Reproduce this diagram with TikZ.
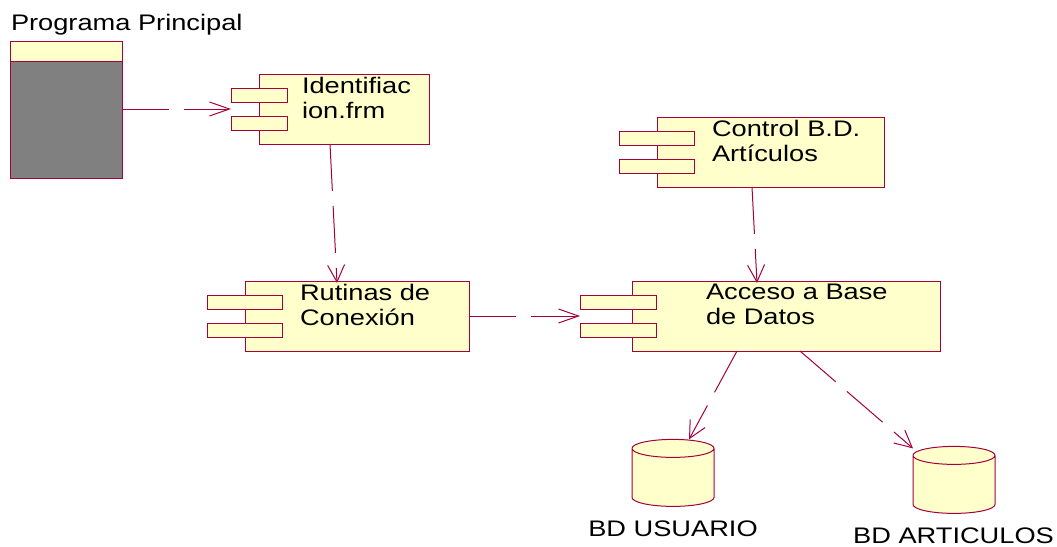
\documentclass[tikz,border=0pt]{standalone}
\usepackage{fontspec}
\setmainfont[FakeStretch=1.21]{Liberation Sans}
\usetikzlibrary{calc,positioning,arrows.meta,shapes.geometric}
\definecolor{roseline}{RGB}{165,0,60}
\definecolor{rosefill}{RGB}{255,255,203}
\begin{document}
\begin{tikzpicture}[x=1pt,y=-1pt,
	box/.style={draw=roseline,fill=rosefill,line width=1pt,inner sep=0pt,outer sep=0pt},
	port/.style={box,minimum height=14pt},
	txt/.style={inner sep=0pt,outer sep=0pt,align=left,font=\fontsize{22.5}{25.3}\selectfont},
	db/.style={box,cylinder,shape border rotate=90,inner sep=20pt,shape aspect=0.45,minimum width=82pt,minimum height=67pt},
	dep/.style={draw=roseline,line width=1pt,dash pattern=on 47pt off 15pt,-{Straight Barb[length=20pt,width=14pt,line width=1pt]}},
	depv/.style={dep,-{Straight Barb[length=17pt,width=17pt,line width=1pt]}}]
	\useasboundingbox (0,0) rectangle (1057,546);
	
	\node[box,minimum width=112pt,minimum height=20pt] (mainh) at (66,51) {};
	\node[box,fill=gray,minimum width=112pt,minimum height=117pt,below=0pt of mainh] (main) {};
	\node[txt,anchor=base west] (mainl) at (11,30) {Programa Principal};
	
	\node[box,minimum width=170pt,minimum height=70pt] (id) at (344,109) {};
	\node[port,minimum width=56pt,below right=14pt and -28pt of id.north west] (idp1) {};
	\node[port,minimum width=56pt,below=14pt of idp1] (idp2) {};
	\node[txt,anchor=north west] (idl) at (302,77) {Identifiac\\ion.frm};
	
	\node[box,minimum width=227pt,minimum height=70pt] (ctl) at (770.5,152) {};
	\node[port,minimum width=75pt,below right=14pt and -38pt of ctl.north west] (ctlp1) {};
	\node[port,minimum width=75pt,below=14pt of ctlp1] (ctlp2) {};
	\node[txt,anchor=north west] (ctll) at (712,120) {Control B.D.\\Artículos};
	
	\node[box,minimum width=224pt,minimum height=70pt] (rut) at (357,316) {};
	\node[port,minimum width=75pt,below right=14pt and -38pt of rut.north west] (rutp1) {};
	\node[port,minimum width=75pt,below=14pt of rutp1] (rutp2) {};
	\node[txt,anchor=north west] (rutl) at (300,284) {Rutinas de\\Conexión};
	
	\node[box,minimum width=308pt,minimum height=70pt] (acc) at (786,316) {};
	\node[port,minimum width=76pt,below right=14pt and -52pt of acc.north west] (accp1) {};
	\node[port,minimum width=76pt,below=14pt of accp1] (accp2) {};
	\node[txt,anchor=north west] (accl) at (706,284) {Acceso a Base\\de Datos};
	
	\node[db] (usu) at (673,481.5) {};
	\node[txt,anchor=base] (usul) at (673,536) {BD USUARIO};
	\node[db] (art) at (954,488.5) {};
	\node[txt,anchor=base,text depth=0pt] (artl) at (953.5,543) {BD ARTICULOS};
	
	\draw[dep] (main.east |- id.west) -- (idp1.west |- id.west);
	\draw[depv] ([xshift=-14pt]id.south) -- ([xshift=-20pt,yshift=-2pt]rut.north);
	\draw[dep] (rut.east) -- (accp1.west |- acc.west);
	\draw[depv] ([xshift=-18.5pt]ctl.south) -- ([xshift=-29pt,yshift=-2pt]acc.north);
	\draw[depv] ([xshift=-49pt]acc.south) -- ([xshift=16pt]usu.north);
	\draw[depv] ([xshift=14pt]acc.south) -- ([xshift=-41pt,yshift=-2pt]art.north);
\end{tikzpicture}
\end{document}
